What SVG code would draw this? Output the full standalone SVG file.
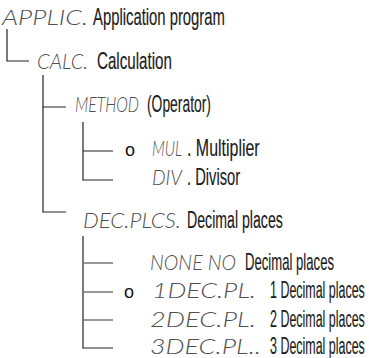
<svg xmlns="http://www.w3.org/2000/svg" width="369" height="358" viewBox="0 0 369 358">
<style>
.seg{font-family:"Lato","Liberation Mono",monospace;font-weight:300;font-size:21px;fill:#505050;font-style:italic}
.t{font-family:"Liberation Sans",Arial,sans-serif;font-size:23px;fill:#1a1a1a;stroke:#1a1a1a;stroke-width:0.15}
.b{font-family:"Liberation Sans",Arial,sans-serif;font-size:18px;fill:#111}
.ln{stroke:#222;stroke-width:1.2;fill:none}
.lg{stroke:#777;stroke-width:1.6;fill:none}
</style>
<rect width="369" height="358" fill="#fff"/>
<g id="connectors">
<path class="ln" d="M7 29V61H29"/>
<path class="ln" d="M43 75V212H66M43 107H66"/>
<path class="ln" d="M83 122V180H113M83 151H113"/>
<path class="ln" d="M83 236V348H113"/>
<path class="lg" d="M83 263H113M83 292H113M83 320H113"/>
</g>
<g id="applic">
<text class="seg" transform="translate(2,25) scale(1.186,1)" textLength="72.5" lengthAdjust="spacingAndGlyphs">APPLIC.</text>
<text class="t" transform="translate(93,25) scale(0.645,1)">Application program</text>
</g>
<g id="calc">
<text class="seg" transform="translate(37,69) scale(0.903,1)" textLength="56.5" lengthAdjust="spacingAndGlyphs">CALC.</text>
<text class="t" transform="translate(97,69) scale(0.659,1)">Calculation</text>
</g>
<g id="method">
<text class="seg" transform="translate(75,112) scale(0.727,1)" textLength="88" lengthAdjust="spacingAndGlyphs">METHOD</text>
<text class="t" transform="translate(147,112) scale(0.603,1)">(Operator)</text>
</g>
<g id="mul">
<text class="b" x="125" y="156">o</text>
<text class="seg" transform="translate(152,156) scale(0.704,1)" textLength="42.6" lengthAdjust="spacingAndGlyphs">MUL</text>
<text class="t" transform="translate(187,156) scale(0.694,1)">. Multiplier</text>
</g>
<g id="div">
<text class="seg" transform="translate(152,185) scale(0.86,1)" textLength="34.9" lengthAdjust="spacingAndGlyphs">DIV</text>
<text class="t" transform="translate(187,185) scale(0.639,1)">. Divisor</text>
</g>
<g id="decplcs">
<text class="seg" transform="translate(83,228) scale(1.006,1)" textLength="97.4" lengthAdjust="spacingAndGlyphs">DEC.PLCS.</text>
<text class="t" transform="translate(187,228) scale(0.615,1)">Decimal places</text>
</g>
<g id="none">
<text class="seg" transform="translate(150,270) scale(0.9,1)" textLength="95.6" lengthAdjust="spacingAndGlyphs">NONE NO</text>
<text class="t" transform="translate(245,270) scale(0.571,1)">Decimal places</text>
</g>
<g id="dec1">
<text class="b" x="124" y="298">o</text>
<text class="seg" transform="translate(152,298) scale(1.229,1)" textLength="84.6" lengthAdjust="spacingAndGlyphs">1DEC.PL.</text>
<text class="t" transform="translate(270,298) scale(0.542,1)">1 Decimal places</text>
</g>
<g id="dec2">
<text class="seg" transform="translate(150,327) scale(1.253,1)" textLength="84.6" lengthAdjust="spacingAndGlyphs">2DEC.PL.</text>
<text class="t" transform="translate(270,327) scale(0.542,1)">2 Decimal places</text>
</g>
<g id="dec3">
<text class="seg" transform="translate(150,354) scale(1.244,1)" textLength="89.2" lengthAdjust="spacingAndGlyphs">3DEC.PL..</text>
<text class="t" transform="translate(270,354) scale(0.542,1)">3 Decimal places</text>
</g>
</svg>
